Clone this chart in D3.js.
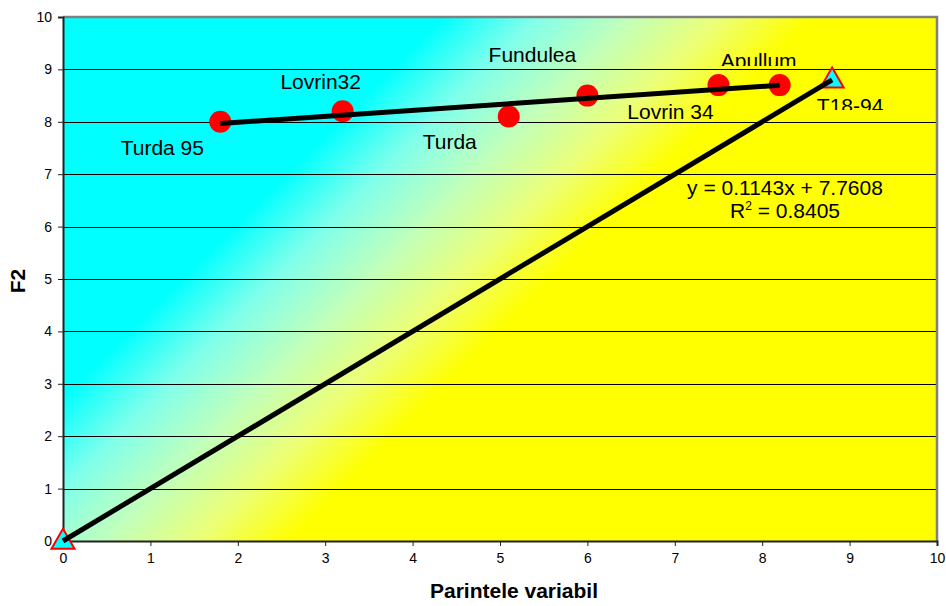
<!doctype html>
<html lang="en">
  <head>
    <meta charset="UTF-8" />
    <title>F2 vs Parintele variabil</title>
    <style>
      body {
        margin: 0;
        background: #fff;
        overflow: hidden;
      }
      svg {
        display: block;
        font-family: Arial, "Liberation Sans", sans-serif;
      }
      .tick text {
        font-size: 14px;
        fill: #000;
      }
      .lbl {
        font-size: 21px;
        fill: #000;
      }
      .title {
        font-size: 21px;
        font-weight: bold;
      }
    </style>
  </head>
  <body>
    <script src="https://cdn.jsdelivr.net/npm/d3@7"></script>
    <script>
      // varieties (red circles)
      const names = ["Turda 95", "Lovrin32", "Turda", "Fundulea", "Lovrin 34", "Apullum"];
      const xVals = [1.8, 3.2, 5.1, 6.0, 7.5, 8.2];
      const yVals = [8.0, 8.2, 8.1, 8.5, 8.7, 8.7];
      // reference line (triangles)
      const refX = [0, 8.8];
      const refY = [0, 8.8];
      const refNames = ["", "T18-94"];
      const ticks = [0, 1, 2, 3, 4, 5, 6, 7, 8, 9, 10];
      const eqLines = ["y = 0.1143x + 7.7608", "R² = 0.8405"];

      const W = 946, H = 606;
      const m = { left: 63, right: 9, top: 17, bottom: 65 };
      const pw = W - m.left - m.right;
      const ph = H - m.top - m.bottom;

      const svg = d3.select("body").append("svg").attr("width", W).attr("height", H);

      const x = d3.scaleLinear().domain([0, 10]).range([m.left, m.left + pw]);
      const y = d3.scaleLinear().domain([0, 10]).range([m.top + ph, m.top]);

      // diagonal cyan -> yellow background
      const defs = svg.append("defs");
      const grad = defs
        .append("linearGradient")
        .attr("id", "bg")
        .attr("gradientUnits", "userSpaceOnUse")
        .attr("x1", m.left + 190)
        .attr("y1", m.top + 190)
        .attr("x2", m.left + 375)
        .attr("y2", m.top + 375);
      [
        [0, "#00ffff"],
        [0.25, "#80ffec"],
        [0.5, "#c0ffbc"],
        [0.75, "#ecff78"],
        [1, "#ffff00"],
      ].forEach(([o, c]) => grad.append("stop").attr("offset", o).attr("stop-color", c));

      svg
        .append("rect")
        .attr("x", m.left)
        .attr("y", m.top)
        .attr("width", pw)
        .attr("height", ph)
        .attr("fill", "url(#bg)");

      // horizontal gridlines
      svg
        .append("g")
        .selectAll("line")
        .data(ticks.slice(1, -1))
        .join("line")
        .attr("x1", m.left)
        .attr("x2", m.left + pw)
        .attr("y1", (d) => Math.round(y(d)) + 0.5)
        .attr("y2", (d) => Math.round(y(d)) + 0.5)
        .attr("stroke", "#000")
        .attr("stroke-width", 1);

      // gray top / right border
      svg
        .append("path")
        .attr("d", `M${m.left},${m.top}H${m.left + pw}V${m.top + ph}`)
        .attr("fill", "none")
        .attr("stroke", "#808080")
        .attr("stroke-width", 2.5);

      // axes
      const xAxis = svg
        .append("g")
        .attr("transform", `translate(0,${m.top + ph})`)
        .call(d3.axisBottom(x).tickValues(ticks).tickSize(5).tickPadding(7).tickFormat(d3.format("d")));
      const yAxis = svg
        .append("g")
        .attr("transform", `translate(${m.left},0)`)
        .call(d3.axisLeft(y).tickValues(ticks).tickSize(5).tickPadding(6).tickFormat(d3.format("d")));
      [xAxis, yAxis].forEach((a) => {
        a.attr("font-family", null).attr("font-size", null);
        a.select(".domain").attr("stroke", "#222").attr("stroke-width", 2);
        a.selectAll(".tick line").attr("stroke", "#222");
      });

      // varieties: red dots
      const pts = xVals.map((v, i) => ({ x: v, y: yVals[i], name: names[i] }));
      svg
        .append("g")
        .selectAll("circle")
        .data(pts)
        .join("circle")
        .attr("cx", (d) => x(d.x))
        .attr("cy", (d) => y(d.y))
        .attr("r", 11)
        .attr("fill", "#ff0000");

      // linear trend line (least squares)
      const mx = d3.mean(xVals), my = d3.mean(yVals);
      const slope =
        d3.sum(xVals, (v, i) => (v - mx) * (yVals[i] - my)) / d3.sum(xVals, (v) => (v - mx) ** 2);
      const icpt = my - slope * mx;
      const xr = d3.extent(xVals);
      svg
        .append("line")
        .attr("x1", x(xr[0]))
        .attr("y1", y(icpt + slope * xr[0]))
        .attr("x2", x(xr[1]))
        .attr("y2", y(icpt + slope * xr[1]))
        .attr("stroke", "#000")
        .attr("stroke-width", 5);

      // reference series: triangles + line
      const refPts = refX.map((v, i) => ({ x: v, y: refY[i], name: refNames[i] }));
      svg
        .append("g")
        .selectAll("path")
        .data(refPts)
        .join("path")
        .attr("d", d3.symbol(d3.symbolTriangle, 230))
        .attr("transform", (d) => `translate(${x(d.x)},${y(d.y) + 1})`)
        .attr("fill", "#00ffff")
        .attr("stroke", "#ff0000")
        .attr("stroke-width", 2);
      svg
        .append("path")
        .datum(refPts)
        .attr(
          "d",
          d3.line().x((d) => x(d.x)).y((d) => y(d.y))
        )
        .attr("fill", "none")
        .attr("stroke", "#000")
        .attr("stroke-width", 5);

      // label clipping boxes (the two right-most labels are cut at the bottom)
      defs.append("clipPath").attr("id", "clipA")
        .append("rect").attr("x", 700).attr("y", 30).attr("width", 120).attr("height", 36);
      defs.append("clipPath").attr("id", "clipT")
        .append("rect").attr("x", 800).attr("y", 80).attr("width", 110).attr("height", 30);

      // data labels (offsets in px from the marker)
      const offs = [
        [-58, 33],
        [-22, -22],
        [-59, 32],
        [-55, -34],
        [-48, 34],
        [-21, -17],
      ];
      const lbl = svg.append("g");
      pts.forEach((d, i) => {
        lbl
          .append("text")
          .attr("class", "lbl")
          .attr("x", x(d.x) + offs[i][0])
          .attr("y", y(d.y) + offs[i][1])
          .attr("text-anchor", "middle")
          .attr("clip-path", d.name === "Apullum" ? "url(#clipA)" : null)
          .text(d.name);
      });
      lbl
        .append("text")
        .attr("class", "lbl")
        .attr("x", x(refPts[1].x) + 18)
        .attr("y", y(refPts[1].y) + 33)
        .attr("text-anchor", "middle")
        .attr("clip-path", "url(#clipT)")
        .text(refPts[1].name);

      // equation
      const eq = svg
        .append("text")
        .attr("class", "lbl")
        .attr("text-anchor", "middle")
        .attr("x", 785)
        .attr("y", 195);
      eq.append("tspan").text(eqLines[0]);
      const r2 = eq.append("tspan").attr("x", 785).attr("dy", 23);
      r2.append("tspan").text("R");
      r2.append("tspan").attr("font-size", 12).attr("dy", -8).text("2");
      r2.append("tspan").attr("dy", 8).text(eqLines[1].slice(2));

      // axis titles
      svg
        .append("text")
        .attr("class", "title")
        .attr("x", m.left + pw / 2 + 14)
        .attr("y", 598)
        .attr("text-anchor", "middle")
        .text("Parintele variabil");
      svg
        .append("text")
        .attr("class", "title")
        .attr("transform", `translate(25,${m.top + ph / 2 + 2}) rotate(-90)`)
        .attr("text-anchor", "middle")
        .text("F2");
    </script>
  </body>
</html>
